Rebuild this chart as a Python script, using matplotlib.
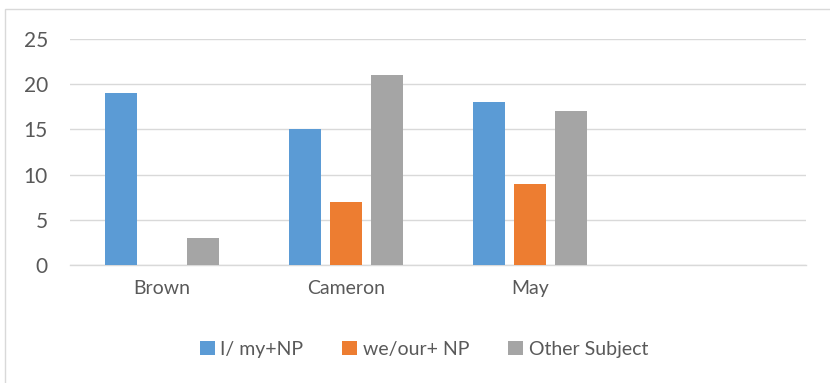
import matplotlib
matplotlib.use("Agg")
import matplotlib.pyplot as plt
from matplotlib.patches import Rectangle
import numpy as np

categories = ["Brown", "Cameron", "May"]
series_names = ["I/ my+NP", "we/our+ NP", "Other Subject"]
i_my_np = [19, 15, 18]
we_our_np = [np.nan, 7, 9]
other_subject = [3, 21, 17]
y_ticks = [0, 5, 10, 15, 20, 25]

colors = ["#5B9BD5", "#ED7D31", "#A5A5A5"]
text_color = "#595959"
grid_color = "#D9D9D9"

plt.rcParams["font.family"] = ["Lato", "DejaVu Sans"]

W, H = 830, 383
fig = plt.figure(figsize=(W / 100, H / 100), dpi=100)

# chart outer border
fig.patches.append(Rectangle((5 / W, -0.1), 2.0, 1 - 9 / H + 0.1,
                             transform=fig.transFigure, fill=False,
                             edgecolor="#D9D9D9", linewidth=1.0))

ax = fig.add_axes([70 / W, 1 - 265 / H, (806 - 70) / W, (265 - 39) / H])

x = np.arange(len(categories))
bar_w = 32 / 184
step = 41 / 184
for k, (vals, name) in enumerate(zip([i_my_np, we_our_np, other_subject], series_names)):
    ax.bar(x + (k - 1) * step, vals, width=bar_w, color=colors[k], label=name, zorder=3)

ax.set_xlim(-0.5, 3.5)
ax.set_ylim(0, 25)
ax.set_yticks(y_ticks)
ax.set_xticks(x)
ax.set_xticklabels(categories)
ax.yaxis.grid(True, color=grid_color, linewidth=1.0, zorder=0)
for side in ["left", "right", "top"]:
    ax.spines[side].set_visible(False)
ax.spines["bottom"].set_color(grid_color)
ax.spines["bottom"].set_linewidth(1.0)
ax.tick_params(axis="x", length=0, colors=text_color, labelsize=14, pad=11)
ax.tick_params(axis="y", length=0, colors=text_color, labelsize=15, pad=16)

leg = fig.legend(loc="center", bbox_to_anchor=(424 / W, 1 - 349 / H), ncol=3,
                 frameon=False, fontsize=14, handlelength=0.75, handleheight=0.75,
                 handletextpad=0.3, columnspacing=2.0)
for t in leg.get_texts():
    t.set_color(text_color)

fig.savefig("out.png", dpi=100)
